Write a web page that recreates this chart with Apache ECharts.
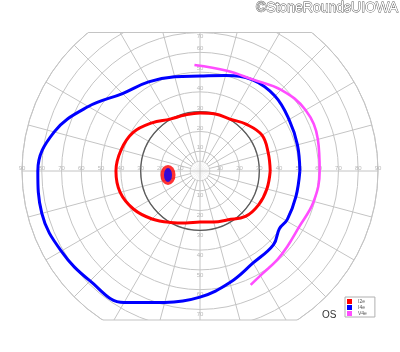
<!DOCTYPE html>
<html>
<head>
<meta charset="utf-8">
<script src="https://cdn.jsdelivr.net/npm/echarts@6/dist/echarts.min.js"></script>
<style>
  html, body { margin: 0; padding: 0; background: #fff; }
  #chart { width: 400px; height: 352px; }
</style>
</head>
<body>
<div id="chart"></div>
<script>
// eccentricity tick labels on the horizontal and vertical meridians
const hTicks = [10, 20, 30, 40, 50, 60, 70, 80, 90];
const vTicks = [10, 20, 30, 40, 50, 60, 70];

// isopters: [eccentricity (deg), meridian (deg, 0 = right, counter-clockwise)]
const isoI2e = [
  [35.5, 0], [35.7, 15], [36.2, 30], [33.3, 45], [30.3, 60], [29.8, 75],
  [29.3, 90], [29.3, 105], [30.3, 120], [34.4, 135], [39, 150], [41.3, 165],
  [42.5, 180], [41.8, 195], [38.7, 210], [34.3, 225], [30, 240], [27.2, 255],
  [25.8, 270], [26.7, 285], [28.5, 300], [32.5, 315], [34.2, 330], [35, 345],
  [35.5, 360]
];
const isoI4e = [
  [50.5, 0], [51, 15], [52, 30], [53.6, 45], [53.2, 60], [50, 75],
  [48, 90], [49.3, 105], [52, 120], [55.4, 135], [65.2, 150], [76.3, 165],
  [82, 180], [82.8, 195], [81, 210], [78.6, 225], [76.8, 240], [68.8, 255],
  [63.8, 270], [58.4, 285], [53.7, 300], [52.6, 315], [49.6, 324], [50.5, 331],
  [50.2, 345], [50.5, 360]
];
const isoV4e = [
  [53.7, 93], [52.5, 75], [53.4, 60], [58, 45], [61.6, 30], [61.7, 15],
  [60.5, 0], [59.5, 345], [57.5, 330], [58.4, 319], [59.5, 311], [60.8, 301],
  [63, 294]
];
// physiologic blind spot centre
const blindSpot = [[16.3, 187]];

const CX = 200, CY = 171, R = 178;
const GRID = '#c4c4c4';

const chart = echarts.init(document.getElementById('chart'), null, { renderer: 'canvas' });

// straight border lines where the field is cut at top and bottom
const topY = 32.5, botY = 320;
const topHalf = Math.sqrt(R * R - (CY - topY) * (CY - topY));
const botHalf = Math.sqrt(R * R - (botY - CY) * (botY - CY));

const tickLabel = {
  show: true,
  color: '#a8a8a8',
  fontSize: 6,
  fontFamily: 'Liberation Sans',
  formatter: p => p.value[0]
};
function labelSeries(data, position, distance) {
  return {
    type: 'scatter',
    coordinateSystem: 'polar',
    polarIndex: 0,
    symbol: 'circle',
    symbolSize: 1,
    itemStyle: { color: 'rgba(0,0,0,0)' },
    silent: true,
    z: 3,
    label: Object.assign({ position: position, distance: distance }, tickLabel),
    data: data
  };
}
function isopter(name, data, color, width) {
  return {
    name: name,
    type: 'line',
    coordinateSystem: 'polar',
    polarIndex: 0,
    smooth: 0.4,
    symbol: 'none',
    lineStyle: { color: color, width: width },
    itemStyle: { color: color },
    z: 5,
    data: data
  };
}

chart.setOption({
  animation: false,
  polar: [
    { center: [CX, CY], radius: R },
    { center: [CX, CY], radius: R * 30 / 90 }
  ],
  angleAxis: [
    {
      polarIndex: 0, type: 'value', min: 0, max: 360, interval: 15,
      startAngle: 0, clockwise: false,
      axisLine: { show: true, lineStyle: { color: GRID, width: 1 } },
      axisTick: { show: false }, axisLabel: { show: false },
      splitLine: { show: true, lineStyle: { color: GRID, width: 1 } }
    },
    {
      polarIndex: 1, type: 'value', min: 0, max: 360,
      startAngle: 0, clockwise: false, z: 3,
      axisLine: { show: true, lineStyle: { color: '#5a5a5a', width: 1.3 } },
      axisTick: { show: false }, axisLabel: { show: false },
      splitLine: { show: false }
    }
  ],
  radiusAxis: [
    {
      polarIndex: 0, type: 'value', min: 0, max: 90, interval: 10,
      axisLine: { show: false }, axisTick: { show: false }, axisLabel: { show: false },
      splitLine: { show: true, lineStyle: { color: GRID, width: 1 } }
    },
    {
      polarIndex: 1, type: 'value', min: 0, max: 30,
      axisLine: { show: false }, axisTick: { show: false }, axisLabel: { show: false },
      splitLine: { show: false }
    }
  ],
  legend: {
    data: ['I2e', 'I4e', 'V4e'],
    orient: 'vertical',
    left: 345, top: 297,
    padding: [2, 8, 1, 2],
    itemWidth: 5, itemHeight: 5, itemGap: 1,
    icon: 'rect',
    borderColor: '#b0b0b0', borderWidth: 1,
    backgroundColor: '#fff',
    textStyle: { fontSize: 5, color: '#555', fontFamily: 'Liberation Sans', padding: [0, 0, 0, 1] },
    selectedMode: false,
    z: 200
  },
  series: [
    // central 5 deg circle, spokes start there
    {
      type: 'scatter', coordinateSystem: 'polar', polarIndex: 0, silent: true,
      symbol: 'circle', symbolSize: R * 2 * 5 / 90,
      itemStyle: { color: '#fff', borderColor: GRID, borderWidth: 1 },
      z: 2, data: [[0, 0]]
    },
    {
      type: 'line', coordinateSystem: 'polar', polarIndex: 0, silent: true,
      symbol: 'none', lineStyle: { color: GRID, width: 1 }, z: 3,
      data: [[5, 0], [5, 180]]
    },
    {
      type: 'line', coordinateSystem: 'polar', polarIndex: 0, silent: true,
      symbol: 'none', lineStyle: { color: GRID, width: 1 }, z: 3,
      data: [[5, 90], [5, 270]]
    },
    labelSeries(hTicks.map(v => [v, 0]), 'top', -1),
    labelSeries(hTicks.map(v => [v, 180]), 'top', -1),
    labelSeries(vTicks.map(v => ({ value: [v, 90], label: { position: v === 70 ? 'bottom' : 'top' } })), 'top', 0),
    labelSeries(vTicks.map(v => [v, 270]), 'bottom', 1.5),
    isopter('I2e', isoI2e, '#ff0000', 3),
    isopter('I4e', isoI4e, '#0000ff', 3),
    isopter('V4e', isoV4e, '#ff4dff', 2.6),
    {
      name: 'blind-I2e', type: 'scatter', coordinateSystem: 'polar', polarIndex: 0,
      symbol: 'circle', symbolSize: [15, 20], itemStyle: { color: '#ff0000' },
      z: 6, data: blindSpot
    },
    {
      name: 'blind-I4e', type: 'scatter', coordinateSystem: 'polar', polarIndex: 0,
      symbol: 'circle', symbolSize: [8, 14], itemStyle: { color: '#0000ff' },
      z: 7, data: blindSpot
    }
  ],
  graphic: [
    { type: 'rect', z: 100, silent: true, shape: { x: 0, y: 0, width: 400, height: topY }, style: { fill: '#fff' } },
    { type: 'rect', z: 100, silent: true, shape: { x: 0, y: botY, width: 400, height: 352 - botY }, style: { fill: '#fff' } },
    { type: 'line', z: 101, silent: true, shape: { x1: CX - topHalf, y1: topY, x2: CX + topHalf, y2: topY }, style: { stroke: GRID, lineWidth: 1.2 } },
    { type: 'line', z: 101, silent: true, shape: { x1: CX - botHalf, y1: botY, x2: CX + botHalf, y2: botY }, style: { stroke: GRID, lineWidth: 1.2 } },
    {
      type: 'text', z: 102, silent: true, x: 398, y: 1.5,
      style: {
        text: '©StoneRoundsUIOWA', align: 'right', verticalAlign: 'top',
        fontSize: 14, fontFamily: 'Liberation Sans',
        fill: '#fff', stroke: '#555', lineWidth: 0.9
      }
    },
    {
      type: 'text', z: 102, silent: true, x: 322, y: 310.5,
      style: { text: 'OS', fontSize: 10, fontFamily: 'Liberation Sans', fill: '#333' }
    }
  ]
});
</script>
</body>
</html>
